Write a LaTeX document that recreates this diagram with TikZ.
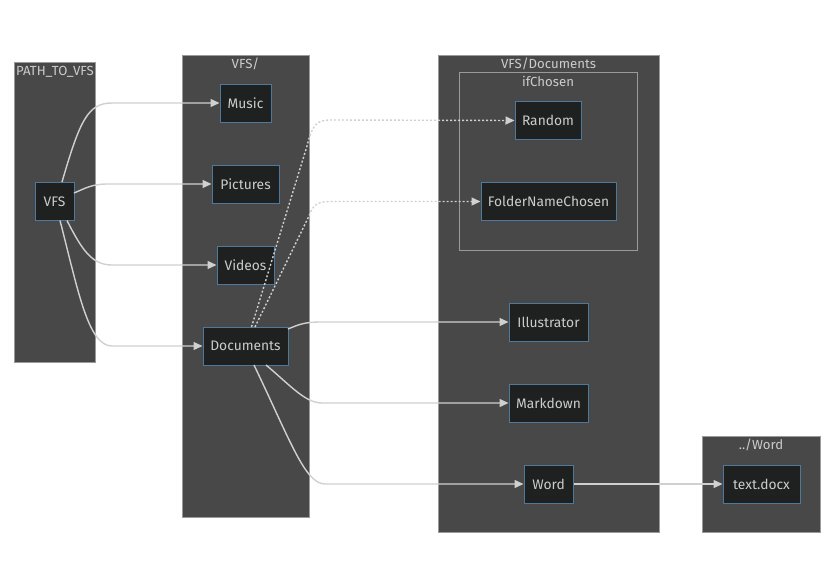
\documentclass[tikz,border=0pt]{standalone}
\usepackage{fontspec}
\setmainfont{Fira Sans}
\usetikzlibrary{arrows.meta}
\definecolor{clfill}{HTML}{484848}
\definecolor{clline}{HTML}{9A9A9A}
\definecolor{ndfill}{HTML}{1F2020}
\definecolor{ndline}{HTML}{4D7A9C}
\definecolor{txt}{HTML}{CCCCCC}
\definecolor{edge}{HTML}{D0D0D0}
\tikzset{
  cluster/.style={draw=clline, fill=clfill, line width=0.8pt},
  inner/.style={draw=clline, line width=0.8pt},
  cltext/.style={text=txt, font=\fontsize{13.2}{15}\selectfont, inner sep=0pt},
  box/.style={draw=ndline, fill=ndfill, line width=1pt, text=txt, font=\fontsize{13.8}{16}\selectfont, inner sep=0pt, minimum height=38pt},
  conn/.style={draw=edge, line width=1.4pt, -{Triangle[length=9pt,width=8pt]}},
  dconn/.style={conn, dash pattern=on 2pt off 2pt},
}
\begin{document}
\begin{tikzpicture}[x=1pt,y=-1pt]
\useasboundingbox (0,0) rectangle (828,581);
% clusters
\path[cluster] (14,62) rectangle (95,362);
\path[cluster] (182,55) rectangle (309,517);
\path[cluster] (438,55) rectangle (659,532);
\path[inner] (459,72) rectangle (637,250);
\path[cluster] (702,436) rectangle (820,532);
\node[cltext] (l1) at (55,72) {PATH\_TO\_VFS};
\node[cltext] (l2) at (245.5,64) {VFS/};
\node[cltext] (l3) at (548.5,64) {VFS/Documents};
\node[cltext] (l4) at (548,81) {ifChosen};
\node[cltext] (l5) at (761,445) {../Word};
% nodes
\node[box, minimum width=39pt] (vfs) at (54.5,201.5) {VFS};
\node[box, minimum width=51pt] (music) at (245.5,103) {Music};
\node[box, minimum width=67pt] (pictures) at (245.5,184) {Pictures};
\node[box, minimum width=57pt] (videos) at (245.5,265) {Videos};
\node[box, minimum width=85pt] (docs) at (245.5,346) {Documents};
\node[box, minimum width=66pt] (random) at (548,120.5) {Random};
\node[box, minimum width=135pt] (folder) at (548.5,201.5) {FolderNameChosen};
\node[box, minimum width=79pt] (illus) at (548.5,322) {Illustrator};
\node[box, minimum width=79pt] (mark) at (548.5,403) {Markdown};
\node[box, minimum width=49pt] (word) at (548.5,484) {Word};
\node[box, minimum width=77pt] (text) at (761.5,484) {text.docx};
% coordinates
\coordinate (v1) at (62,182);
\coordinate (v2) at (74,193);
\coordinate (v3) at (67,220.5);
\coordinate (v4) at (60,220.5);
\coordinate (d1) at (251.5,327);
\coordinate (d2) at (255,327);
\coordinate (d3) at (288,329);
\coordinate (d4) at (266,365);
\coordinate (d5) at (254,365);
% solid edges
\draw[conn] (v1) .. controls (80,120) and (88,103) .. (112,103) -- (music.west);
\draw[conn] (v2) .. controls (86,188) and (92,184) .. (108,184) -- (pictures.west);
\draw[conn] (v3) .. controls (82,250) and (92,265) .. (112,265) -- (videos.west);
\draw[conn] (v4) .. controls (78,290) and (88,346) .. (112,346) -- (docs.west);
\draw[conn] (d3) .. controls (300,324) and (305,322) .. (322,322) -- (illus.west);
\draw[conn] (d4) .. controls (290,385) and (305,403) .. (322,403) -- (mark.west);
\draw[conn] (d5) .. controls (290,440) and (305,484) .. (325,484) -- (word.west);
\draw[conn] (word.east) -- (text.west);
% dotted edges
\draw[dconn] (d1) -- (307,146) .. controls (312,126) and (316,120) .. (330,120) -- (random.west);
\draw[dconn] (d2) -- (309,216) .. controls (313,205) and (317,201.5) .. (330,201.5) -- (folder.west);
\end{tikzpicture}
\end{document}
